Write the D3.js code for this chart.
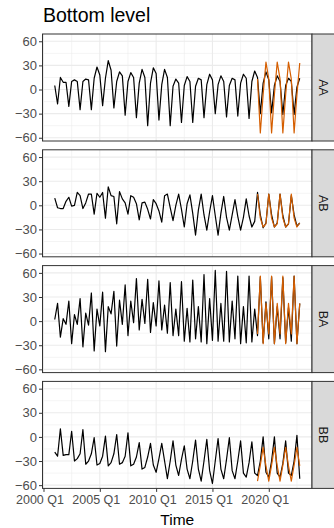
<!DOCTYPE html>
<html><head><meta charset="utf-8">
<script src="https://cdn.jsdelivr.net/npm/d3@7/dist/d3.min.js"></script>
<style>body{margin:0;background:#fff}svg{display:block}</style>
</head><body>
<svg id="c" width="334" height="528"></svg>
<script>
// ---------------- data ----------------
const seriesNames = ["AA", "AB", "BA", "BB"];
const firstYear = 2001;          // first observation: 2001 Q1 (quarterly)
const forecastStartIndex = 72;   // forecasts start at 2019 Q1

const valuesAA = [
  5,-18,15,9, 9,-21,10,12, 10,-25,10,13, 12,-25,14,28, 18,-20,14,36,
  24,-23,10,22, 17,-32,10,21, 15,-35,8,25, 15,-45,8,27, 20,-38,6,25,
  15,-45,4,13, 8,-41,5,16, 10,-41,4,14, 12,-35,6,19, 12,-30,6,17,
  10,-34,5,14, 12,-33,8,19, 14,-36,10,23, 15,-30,8,22, 12,-29,5,17,
  10,-31,5,14, 10,-31,3,14
];
const valuesAB = [
  9,-3,-4,-4, 5,10,-1,0, 16,12,-4,3, 14,14,-11,15, 10,16,-16,23,
  12,11,-23,17, 8,3,-11,12, 10,2,-18,3, 4,-5,-17,7, 2,-7,-21,12,
  14,-3,-19,0, 14,-5,-27,2, 13,-10,-37,-6, 14,-12,-31,-8, 12,-13,-37,-10,
  11,-15,-31,-12, 7,-14,-31,-15, 8,-13,-27,-20, 16,-12,-28,-22, 14,-12,-27,-22,
  14,-13,-27,-23, 12,-12,-26,-22
];
const valuesBA = [
  2,22,-20,3, -4,25,-28,8, -4,28,-32,10, -5,35,-37,15, -6,36,-38,18,
  9,37,-31,26, -4,45,-18,25, -2,53,-11,27, -3,52,-14,23, -6,50,-11,20,
  -15,48,-18,15, -18,49,-25,16, -26,51,-22,18, -26,58,-28,28, -24,63,-25,22,
  -25,62,-26,25, -22,56,-28,18, -27,56,-26,15, -18,55,-27,24, -22,55,-28,18,
  -22,54,-27,17, -25,56,-28,22
];
const valuesBB = [
  -19,-24,10,-23, -22,-22,7,-30, -27,-21,9,-34, -30,-21,-1,-35, -33,-24,1,-36,
  -32,-21,3,-34, -32,-24,5,-36, -34,-25,-7,-40, -38,-25,-8,-35, -44,-27,-8,-30,
  -52,-30,-5,-35, -48,-28,-11,-40, -52,-30,-4,-40, -55,-30,-3,-42, -58,-30,-2,-40,
  -52,-28,-1,-42, -52,-30,-5,-45, -50,-32,-6,-45, -48,-30,0,-44, -50,-30,0,-45,
  -50,-33,-5,-45, -48,-30,2,-52
];
const forecastAA = [13,-54,-6,34, 13,-54,-6,34, 13,-54,-6,34, 13,-54,-6,33];
const forecastAB = [14,-16,-27,-23, 14,-16,-27,-23, 14,-16,-27,-23, 14,-16,-27,-22];
const forecastBA = [-16,56,-28,22, -16,56,-28,22, -16,56,-28,22, -16,56,-28,22];
const forecastBB = [-55,-35,-13,-36, -55,-35,-13,-36, -55,-35,-13,-36, -55,-35,-13,-36];

const xTickValues = [2000, 2005, 2010, 2015, 2020];
const xTickLabels = ["2000 Q1", "2005 Q1", "2010 Q1", "2015 Q1", "2020 Q1"];
const xMinorValues = [2002.5, 2007.5, 2012.5, 2017.5, 2022.5];
const yTickValues = [-60, -30, 0, 30, 60];
const yMinorValues = [-45, -15, 15, 45];

const titleText = "Bottom level";
const xTitle = "Time";

// ---------------- layout ----------------
const FONT = "'Liberation Sans', Arial, Helvetica, sans-serif";
const panelLeft = 42.5, panelRight = 312, stripW = 24;
const panelTop0 = 34, panelStep = 115.8, panelH = 107;

const actual = [valuesAA, valuesAB, valuesBA, valuesBB];
const fcs = [forecastAA, forecastAB, forecastBA, forecastBB];
const tOf = i => firstYear + i / 4;

const n = valuesAA.length;
const t0 = tOf(0), t1 = tOf(n - 1);
const xpad = (t1 - t0) * 0.05;
const x = d3.scaleLinear().domain([t0 - xpad, t1 + xpad]).range([panelLeft, panelRight]);

const allVals = actual.flat().concat(fcs.flat());
const ymin = d3.min(allVals), ymax = d3.max(allVals);
const ypad = (ymax - ymin) * 0.05;

const svg = d3.select("#c");
svg.append("rect").attr("width", 334).attr("height", 528).attr("fill", "#fff");

svg.append("text").attr("x", 43).attr("y", 22)
  .attr("font-family", FONT).attr("font-size", 19.5).attr("fill", "#000")
  .text(titleText);

seriesNames.forEach((name, k) => {
  const top = panelTop0 + k * panelStep;
  const bottom = top + panelH;
  const y = d3.scaleLinear().domain([ymin - ypad, ymax + ypad]).range([bottom, top]);
  const g = svg.append("g");

  g.append("rect").attr("x", panelLeft).attr("y", top)
    .attr("width", panelRight - panelLeft).attr("height", panelH).attr("fill", "#fff");

  yMinorValues.forEach(v => g.append("line")
    .attr("x1", panelLeft).attr("x2", panelRight).attr("y1", y(v)).attr("y2", y(v))
    .attr("stroke", "#EBEBEB").attr("stroke-width", 0.55));
  xMinorValues.filter(v => x(v) > panelLeft && x(v) < panelRight).forEach(v => g.append("line")
    .attr("y1", top).attr("y2", bottom).attr("x1", x(v)).attr("x2", x(v))
    .attr("stroke", "#EBEBEB").attr("stroke-width", 0.55));
  yTickValues.forEach(v => g.append("line")
    .attr("x1", panelLeft).attr("x2", panelRight).attr("y1", y(v)).attr("y2", y(v))
    .attr("stroke", "#EBEBEB").attr("stroke-width", 1.1));
  xTickValues.filter(v => x(v) > panelLeft && x(v) < panelRight).forEach(v => g.append("line")
    .attr("y1", top).attr("y2", bottom).attr("x1", x(v)).attr("x2", x(v))
    .attr("stroke", "#EBEBEB").attr("stroke-width", 1.1));

  const line = d3.line().x(d => x(d.t)).y(d => y(d.v));
  const act = actual[k].map((v, i) => ({ t: tOf(i), v }));
  const fc = fcs[k].map((v, i) => ({ t: tOf(forecastStartIndex + i), v }));

  g.append("path").attr("d", line(act)).attr("fill", "none")
    .attr("stroke", "#000").attr("stroke-width", 1.2).attr("stroke-linejoin", "round");
  g.append("path").attr("d", line(fc)).attr("fill", "none")
    .attr("stroke", "#D55E00").attr("stroke-width", 1.2).attr("stroke-linejoin", "round");

  g.append("rect").attr("x", panelLeft).attr("y", top)
    .attr("width", panelRight - panelLeft).attr("height", panelH)
    .attr("fill", "none").attr("stroke", "#333333").attr("stroke-width", 1);

  g.append("rect").attr("x", panelRight).attr("y", top).attr("width", stripW).attr("height", panelH)
    .attr("fill", "#D9D9D9").attr("stroke", "#333333").attr("stroke-width", 1);
  g.append("text")
    .attr("transform", `translate(${panelRight + 10.5},${top + panelH / 2}) rotate(90)`)
    .attr("text-anchor", "middle").attr("dominant-baseline", "central")
    .attr("font-family", FONT).attr("font-size", 12.5).attr("fill", "#1A1A1A")
    .text(name);

  const yAxis = d3.axisLeft(y).tickValues(yTickValues).tickSize(3.5).tickPadding(2)
    .tickFormat(d3.format("d"));
  const ya = g.append("g").attr("transform", `translate(${panelLeft},0)`).call(yAxis);
  ya.select(".domain").remove();
  ya.selectAll(".tick line").attr("stroke", "#333333");
  ya.selectAll(".tick text").attr("font-family", FONT).attr("font-size", 13).attr("fill", "#4D4D4D");

  if (k === seriesNames.length - 1) {
    const xAxis = d3.axisBottom(x).tickValues(xTickValues).tickSize(3.5).tickPadding(3.5)
      .tickFormat((d, i) => xTickLabels[i]);
    const xa = g.append("g").attr("transform", `translate(0,${bottom})`).call(xAxis);
    xa.select(".domain").remove();
    xa.selectAll(".tick line").attr("stroke", "#333333");
    xa.selectAll(".tick text").attr("font-family", FONT).attr("font-size", 12.5).attr("fill", "#4D4D4D")
      .attr("dx", -4);
    svg.append("text").attr("x", (panelLeft + panelRight) / 2).attr("y", 525)
      .attr("text-anchor", "middle").attr("font-family", FONT).attr("font-size", 15.5).attr("fill", "#000")
      .text(xTitle);
  }
});
</script>
</body></html>
